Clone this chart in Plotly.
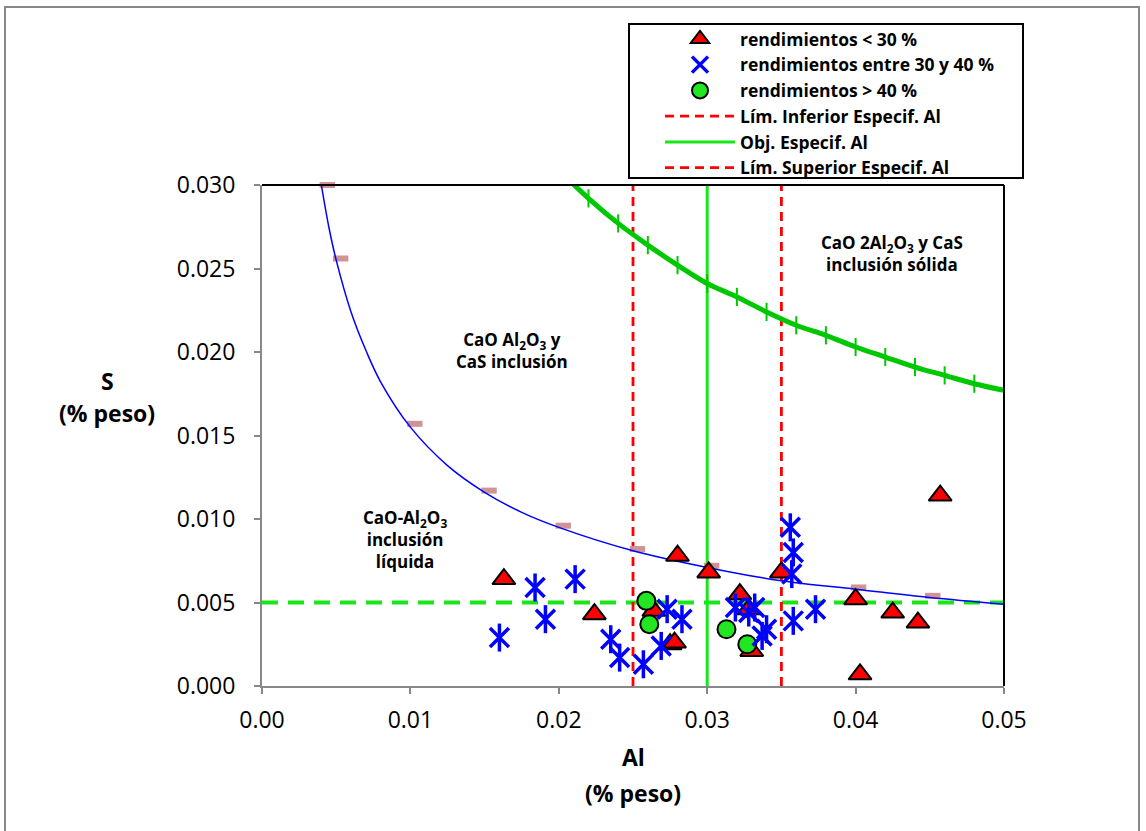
import plotly.graph_objects as go

# ---------------- data ----------------
tri_al = [0.0163, 0.0224, 0.0264, 0.0275, 0.0278, 0.0280, 0.0301, 0.0322, 0.0328, 0.0330, 0.0350, 0.0400, 0.0403, 0.0425, 0.0442, 0.0457]
tri_s  = [0.0064, 0.0043, 0.0045, 0.0025, 0.0026, 0.0078, 0.0068, 0.0055, 0.0046, 0.0021, 0.0068, 0.0052, 0.0007, 0.0044, 0.0038, 0.0114]

star_al = [0.0160, 0.0184, 0.0191, 0.0211, 0.0235, 0.0241, 0.0257, 0.0269, 0.0273, 0.0283,
           0.0319, 0.0328, 0.0332, 0.0337, 0.0340, 0.0356, 0.0357, 0.0358, 0.0358, 0.0373]
star_s  = [0.0029, 0.0059, 0.0040, 0.0064, 0.0028, 0.0017, 0.0013, 0.0024, 0.0046, 0.0040,
           0.0047, 0.0044, 0.0047, 0.0030, 0.0034, 0.0095, 0.0067, 0.0080, 0.0039, 0.0046]

circ_al = [0.0259, 0.0261, 0.0313, 0.0327]
circ_s  = [0.0051, 0.0037, 0.0034, 0.0025]

# liquid-inclusion boundary (blue curve) and its source points (pink dashes)
blue_al = [0.0040, 0.0045, 0.0050, 0.0060, 0.0070, 0.0080, 0.0100, 0.0125, 0.0150, 0.0175,
           0.0200, 0.0250, 0.0300, 0.0350, 0.0400, 0.0450, 0.0500]
blue_s  = [0.0300, 0.0275, 0.0255, 0.0224, 0.0201, 0.0182, 0.0155, 0.0132, 0.0116, 0.0104,
           0.0095, 0.0081, 0.0071, 0.0063, 0.0058, 0.0053, 0.0049]
pink_al = [0.0044, 0.0053, 0.0103, 0.0153, 0.0203, 0.0253, 0.0303, 0.0402, 0.0452, 0.0503]
pink_s  = [0.0300, 0.0256, 0.0157, 0.0117, 0.0096, 0.0082, 0.0072, 0.0059, 0.0054, 0.0050]

# solid-inclusion boundary (green curve with + markers)
green_al = [0.020, 0.022, 0.024, 0.026, 0.028, 0.030, 0.032, 0.034, 0.036, 0.038,
            0.040, 0.042, 0.044, 0.046, 0.048, 0.050]
green_s  = [0.0309, 0.0292, 0.0277, 0.0264, 0.0252, 0.0241, 0.0233, 0.0224, 0.0216, 0.0210,
            0.0203, 0.0197, 0.0191, 0.0186, 0.0181, 0.0177]

al_low, al_obj, al_high = 0.025, 0.030, 0.035
s_obj = 0.005

x_ticks = [0.00, 0.01, 0.02, 0.03, 0.04, 0.05]
x_ticklabels = ["0.00", "0.01", "0.02", "0.03", "0.04", "0.05"]
y_ticks = [0.000, 0.005, 0.010, 0.015, 0.020, 0.025, 0.030]
y_ticklabels = ["0.000", "0.005", "0.010", "0.015", "0.020", "0.025", "0.030"]

# ---------------- figure ----------------
FONT = "Open Sans"
W, H = 1146, 831
L, R, T, B = 262, 142, 185, 145
PW, PH = W - L - R, H - T - B

def px(xpix):
    return (xpix - L) / PW

def py(ypix):
    return (H - B - ypix) / PH

RED = "#ff0000"
LIME = "#19e619"
GREENC = "#00c800"
BLUE = "#0000ff"
PINK = "#d09494"

fig = go.Figure()

# reference lines
fig.add_trace(go.Scatter(x=[0, 0.05], y=[s_obj, s_obj], mode="lines",
                         line=dict(color=LIME, width=4, dash="16px,10px"),
                         showlegend=False, hoverinfo="skip"))
fig.add_trace(go.Scatter(x=[al_low, al_low], y=[0, 0.030], mode="lines",
                         name="Lím. Inferior Especif. Al",
                         line=dict(color=RED, width=2.8, dash="9px,6px"), legendrank=4))
fig.add_trace(go.Scatter(x=[al_obj, al_obj], y=[0, 0.030], mode="lines",
                         name="Obj. Especif. Al",
                         line=dict(color=LIME, width=3), legendrank=5))
fig.add_trace(go.Scatter(x=[al_high, al_high], y=[0, 0.030], mode="lines",
                         name="Lím. Superior Especif. Al",
                         line=dict(color=RED, width=2.8, dash="9px,6px"), legendrank=6))

# boundary curves
fig.add_trace(go.Scatter(x=pink_al, y=pink_s, mode="markers", cliponaxis=False,
                         marker=dict(symbol="line-ew-open", size=11, color=PINK,
                                     line=dict(color=PINK, width=6)),
                         showlegend=False, hoverinfo="skip"))
fig.add_trace(go.Scatter(x=blue_al, y=blue_s, mode="lines", line_shape="spline",
                         line=dict(color=BLUE, width=1.5),
                         showlegend=False, hoverinfo="skip"))
fig.add_trace(go.Scatter(x=green_al, y=green_s, mode="lines+markers", line_shape="spline",
                         line=dict(color=GREENC, width=5),
                         marker=dict(symbol="line-ns-open", size=13, color=GREENC,
                                     line=dict(color=GREENC, width=2)),
                         showlegend=False, hoverinfo="skip"))

# data points
fig.add_trace(go.Scatter(x=tri_al, y=tri_s, mode="markers", name="rendimientos < 30 %",
                         marker=dict(symbol="triangle-up", size=20, color=RED,
                                     line=dict(color="black", width=2)), legendrank=1))
fig.add_trace(go.Scatter(x=circ_al, y=circ_s, mode="markers", name="rendimientos > 40 %",
                         marker=dict(symbol="circle", size=18, color="#22e622",
                                     line=dict(color="black", width=2)), legendrank=3))
fig.add_trace(go.Scatter(x=star_al, y=star_s, mode="markers", showlegend=False,
                         marker=dict(symbol="line-ns-open", size=20, color=BLUE, opacity=1,
                                     line=dict(color=BLUE, width=3.5))))
fig.add_trace(go.Scatter(x=star_al, y=star_s, mode="markers",
                         name="rendimientos entre 30 y 40 %",
                         marker=dict(symbol="x-thin-open", size=19, color=BLUE, opacity=1,
                                     line=dict(color=BLUE, width=3.5)), legendrank=2))

shapes = [
    # outer chart frame
    dict(type="rect", xref="paper", yref="paper", x0=px(5), x1=px(1139), y0=py(840), y1=py(7),
         line=dict(color="#888888", width=2), layer="below"),
    # plot top and right borders
    dict(type="line", xref="paper", yref="paper", x0=0, x1=1, y0=1, y1=1,
         line=dict(color="black", width=2)),
    dict(type="line", xref="paper", yref="paper", x0=1, x1=1, y0=0, y1=1,
         line=dict(color="black", width=2)),
    # legend frame
    dict(type="rect", xref="paper", yref="paper", x0=px(629), x1=px(1023), y0=py(178), y1=py(24),
         line=dict(color="black", width=2)),
]

ann_font = dict(family=FONT, size=17, color="black", weight="bold")
title_font = dict(family=FONT, size=23, color="black", weight="bold")
annotations = [
    dict(x=0.01682, y=0.0201, xref="x", yref="y", showarrow=False, xanchor="center", yanchor="middle",
         text="CaO Al<sub>2</sub>O<sub>3</sub> y<br>CaS inclusión", font=ann_font, align="center"),
    dict(x=0.04245, y=0.0259, xref="x", yref="y", showarrow=False, xanchor="center", yanchor="middle",
         text="CaO 2Al<sub>2</sub>O<sub>3</sub> y CaS<br>inclusión sólida", font=ann_font, align="center"),
    dict(x=0.00964, y=0.0088, xref="x", yref="y", showarrow=False, xanchor="center", yanchor="middle",
         text="CaO-Al<sub>2</sub>O<sub>3</sub><br>inclusión<br>líquida", font=ann_font, align="center"),
    dict(x=px(107), y=py(381), xref="paper", yref="paper", showarrow=False,
         xanchor="center", yanchor="middle", text="S", font=title_font),
    dict(x=px(107), y=py(413), xref="paper", yref="paper", showarrow=False,
         xanchor="center", yanchor="middle", text="(% peso)", font=title_font),
    dict(x=px(633), y=py(757), xref="paper", yref="paper", showarrow=False,
         xanchor="center", yanchor="middle", text="Al", font=title_font),
    dict(x=px(633), y=py(793), xref="paper", yref="paper", showarrow=False,
         xanchor="center", yanchor="middle", text="(% peso)", font=title_font),
]

fig.update_layout(
    width=W, height=H,
    margin=dict(l=L, r=R, t=T, b=B, pad=0),
    paper_bgcolor="white", plot_bgcolor="white",
    font=dict(family=FONT, color="black"),
    shapes=shapes, annotations=annotations,
    legend=dict(x=px(660), y=py(21), xanchor="left", yanchor="top",
                bgcolor="rgba(0,0,0,0)", borderwidth=0,
                font=dict(family=FONT, size=17.5, color="black", weight="bold"),
                itemwidth=70, traceorder="normal", tracegroupgap=0),
    xaxis=dict(range=[0, 0.05], tickvals=x_ticks, ticktext=x_ticklabels,
               showgrid=False, zeroline=False, showline=True, linecolor="#888888", linewidth=2,
               ticks="outside", ticklen=6, tickcolor="#888888", tickwidth=2,
               tickfont=dict(family=FONT, size=23, color="black"), ticklabelstandoff=6),
    yaxis=dict(range=[0, 0.030], tickvals=y_ticks, ticktext=y_ticklabels,
               showgrid=False, zeroline=False, showline=True, linecolor="#888888", linewidth=2,
               ticks="outside", ticklen=6, tickcolor="#888888", tickwidth=2,
               tickfont=dict(family=FONT, size=23, color="black"), ticklabelstandoff=14),
)

fig.write_html("out.html")
